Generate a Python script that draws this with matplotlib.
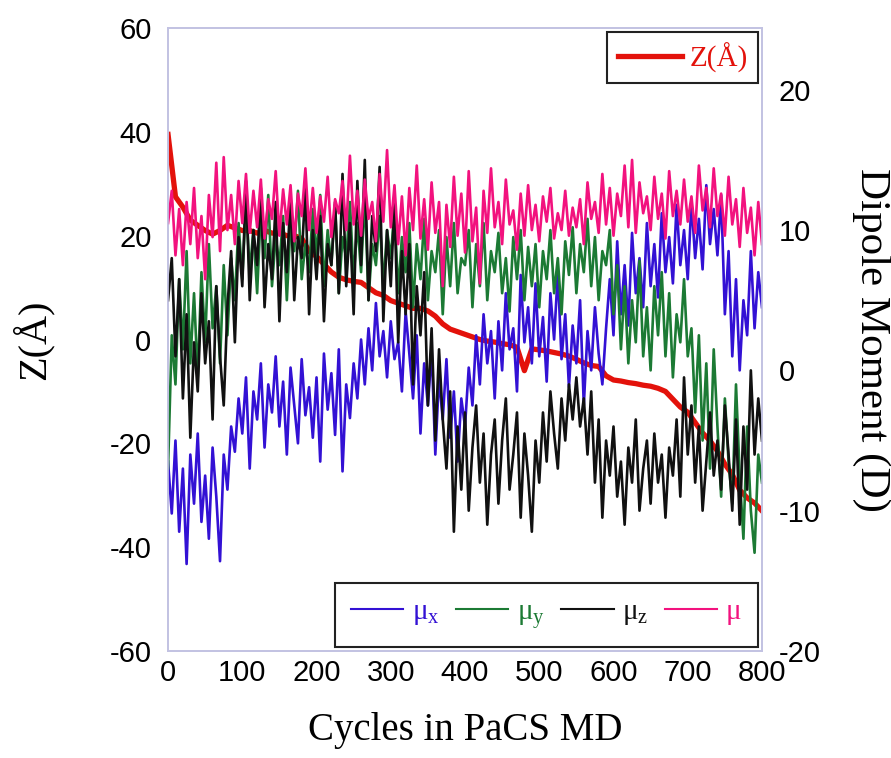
import numpy as np
import matplotlib.pyplot as plt

plt.rcParams['mathtext.fontset'] = 'custom'
plt.rcParams['mathtext.rm'] = 'Liberation Serif'
plt.rcParams['mathtext.it'] = 'Liberation Serif'
plt.rcParams['axes.unicode_minus'] = False

# PaCS MD cycles, sampled every 10 cycles for Z and every 5 for the dipole components
z_cycles = np.arange(0, 801, 10)
mu_cycles = np.arange(0, 801, 5)

# Z coordinate (Angstrom)
z_pos = [
    39.5, 27.5, 25.5, 23.0, 22.0, 21.0, 20.3, 21.0, 22.0, 21.5,
    21.0, 21.0, 20.5, 21.0, 20.5, 20.5, 20.0, 20.0, 19.5, 17.0,
    16.0, 14.5, 13.0, 12.0, 11.5, 11.2, 11.0, 10.0, 9.0, 8.5,
    7.5, 7.0, 6.5, 6.0, 6.0, 5.5, 4.5, 3.0, 2.0, 1.5,
    1.0, 0.5, 0.0, -0.3, -0.5, -0.8, -1.0, -1.5, -6.0, -1.8,
    -2.0, -2.2, -2.5, -2.8, -3.2, -3.8, -4.5, -5.0, -5.2, -7.0,
    -7.8, -8.0, -8.3, -8.5, -8.8, -9.0, -9.4, -10.0, -11.5, -13.0,
    -14.0, -16.0, -18.0, -19.5, -21.5, -24.0, -26.0, -29.0, -30.5, -31.5,
    -33.0,
]

# dipole moment components (Debye)
mu_x = [
    -6.5, -10.2, -5.0, -11.5, -7.0, -13.8, -6.0, -9.5, -4.5, -10.8,
    -7.5, -12.0, -5.5, -9.0, -13.6, -6.0, -8.5, -4.0, -5.8, -2.0,
    -4.5, -0.5, -7.0, -1.5, -3.5, 0.5, -5.5, -1.0, -3.0, 1.0,
    -4.0, -0.8, -6.0, 0.2, -2.5, -5.2, 0.8, -3.2, -1.2, -4.8,
    -0.5, -6.5, 1.2, -2.8, -0.2, -4.6, 1.5, -7.2, -1.0, -3.4,
    0.5, -2.0, 2.2, -1.0, 3.0, 0.0, 4.8, 1.0, 2.8, -0.5,
    3.5, 0.8, 2.0, -1.5, 4.2, 1.2, -2.0, 2.5, -4.5, 0.5,
    -2.5, 1.5, -6.0, -0.5, -3.5, 0.8, -4.8, -1.5, -6.5, -2.0,
    -4.0, 0.2, -2.5, 2.5, -1.0, 4.0, 0.5, 2.8, -2.0, 3.5,
    0.0, 5.5, 1.5, 3.0, -1.5, 6.8, 2.0, 4.5, 0.5, 6.2,
    1.0, 3.8, -0.8, 5.5, 2.2, 7.0, 0.8, 4.0, -1.2, 3.2,
    0.5, 5.0, -2.5, 2.8, 0.0, 4.5, 1.2, -1.0, 3.0, 6.5,
    2.5, 9.2, 4.0, 7.5, 3.2, 9.8, 5.5, 8.0, 4.5, 10.5,
    6.0, 9.0, 5.2, 11.2, 7.0, 9.5, 6.2, 11.8, 7.5, 10.0,
    6.5, 12.0, 8.0, 10.8, 7.2, 13.2, 9.0, 11.5, 8.2, 12.5,
    4.0, 8.5, 1.0, 6.5, 0.0, 5.0, 2.5, 8.5, 3.0, 7.0,
    4.5,
]

mu_y = [
    -7.0, 2.5, -1.0, 6.5, 1.5, 8.5, 0.5, 5.5, -0.5, 7.0,
    2.0, 9.0, 3.0, 6.0, 0.5, 7.5, 2.5, 8.0, 5.0, 10.5,
    6.5, 12.0, 7.0, 10.0, 5.5, 11.5, 8.0, 12.5, 6.0, 9.5,
    7.5, 11.0, 5.0, 10.5, 8.5, 12.8, 6.5, 9.0, 7.0, 11.5,
    8.0, 12.5, 6.0, 10.0, 7.5, 11.8, 5.5, 9.5, 8.0, 12.0,
    6.5, 10.5, 7.0, 12.5, 5.0, 9.0, 7.5, 11.0, 6.0, 10.0,
    8.0, 11.5, 5.5, 9.5, 7.0, 10.5, 4.5, 9.0, 6.5, 10.8,
    5.0, 8.5, 7.0, 10.0, 4.0, 9.5, 6.0, 10.5, 5.5, 8.0,
    7.5, 10.0, 4.5, 9.0, 6.0, 10.5, 5.0, 8.5, 7.0, 9.8,
    5.5, 8.0, 4.2, 9.5, 6.5, 10.0, 5.0, 8.8, 6.0, 9.0,
    4.5, 8.5, 6.5, 10.0, 5.5, 8.0, 4.0, 9.2, 6.8, 10.2,
    5.5, 9.0, 7.0, 10.8, 6.0, 9.5, 5.0, 8.5, 7.5, 10.0,
    4.0, 7.5, 1.5, 6.0, 0.5, 5.0, 2.0, 7.8, 1.0, 4.5,
    0.0, 6.0, 2.5, 7.0, 1.0, 5.5, -0.5, 4.0, 2.0, 6.5,
    1.0, 3.0, -3.0, 2.5, -5.0, 0.5, -7.0, 1.5, -4.0, -9.0,
    -2.0, -6.5, -9.5, -1.0, -7.5, -12.0, -4.0, -10.0, -13.0, -6.0,
    -8.0,
]

mu_z = [
    5.0, 8.0, 1.0, 6.5, -2.0, 4.0, -4.8, 2.0, -1.5, 5.5,
    0.5, 3.5, -3.5, 6.0, 1.0, -2.5, 4.5, 8.5, 2.0, 9.5,
    6.0, 13.5, 5.0, 10.0, 7.5, 13.0, 4.5, 9.0, 6.5, 12.0,
    3.5, 10.5, 7.0, 12.5, 5.0, 9.5, 8.0, 13.0, 4.0, 10.0,
    6.5, 11.0, 3.5, 9.0, 7.5, 12.0, 5.5, 14.0, 6.0, 10.5,
    4.0, 13.5, 7.5, 15.0, 5.0, 11.0, 8.5, 14.5, 3.5, 10.0,
    6.0, 12.0, 2.0, 8.5, 4.0, 9.0, -1.0, 6.0, 2.5, 7.0,
    -2.5, 3.0, -5.0, 1.5, -3.5, -7.0, -1.5, -11.5, -4.0, -8.5,
    -3.0, -10.0, -5.5, -2.5, -8.0, -4.5, -11.0, -6.0, -3.5, -9.5,
    -5.0, -2.0, -8.5, -6.0, -3.0, -10.5, -4.5, -7.5, -11.5, -5.0,
    -8.0, -3.0, -6.5, -1.5, -4.5, -7.0, -2.0, -5.0, -1.0, -3.5,
    -0.5, -4.0, -2.0, -6.0, -1.5, -8.0, -3.5, -10.5, -5.0, -7.5,
    -4.0, -9.0, -6.5, -11.0, -5.5, -8.0, -3.5, -10.0, -7.0, -5.0,
    -9.5, -4.5, -8.0, -6.0, -10.5, -5.5, -7.5, -3.5, -9.0, -0.5,
    -6.0, -2.5, -8.0, -4.0, -10.0, -6.5, -3.0, -7.5, -5.0, -8.5,
    -2.5, -6.0, -10.0, -3.5, -11.0, -4.0, -8.5, 0.0, -6.0, -2.0,
    -5.0,
]

mu_total = [
    10.5, 12.8, 8.2, 11.5, 7.5, 12.0, 9.0, 13.0, 8.0, 11.0,
    6.5, 12.5, 9.5, 14.8, 8.5, 15.2, 10.0, 12.5, 9.0, 13.5,
    10.5, 14.0, 9.8, 12.8, 10.2, 13.6, 9.4, 12.2, 10.8, 14.2,
    9.6, 12.9, 10.4, 13.2, 9.2, 12.6, 11.0, 14.4, 10.0, 13.0,
    9.8, 12.4, 10.6, 13.8, 9.5, 12.2, 11.2, 13.5, 10.0, 15.3,
    10.4, 12.8, 9.6, 13.6, 10.8, 12.0, 9.2, 14.0, 10.6, 15.7,
    10.2, 13.2, 9.0, 12.4, 8.2, 13.0, 10.0, 14.6, 9.4, 12.2,
    8.6, 13.4, 9.8, 12.0, 6.0, 11.8, 8.8, 13.8, 9.6, 12.6,
    8.4, 14.2, 9.2, 11.6, 6.2, 12.8, 9.8, 14.4, 10.2, 12.0,
    9.0, 13.6, 10.4, 11.4, 8.6, 12.6, 9.6, 13.2, 10.0, 11.8,
    9.2, 12.4, 10.6, 13.0, 9.4, 11.2, 10.0, 12.8, 9.6, 11.6,
    10.2, 12.2, 9.0, 13.4, 10.8, 12.0, 9.8, 14.0, 10.4, 13.0,
    9.6, 12.6, 11.0, 14.6, 10.2, 15.0, 9.8, 13.4, 11.2, 12.4,
    10.0, 13.8, 10.8, 12.6, 9.4, 14.2, 11.0, 12.8, 10.4, 13.6,
    10.6, 12.4, 9.8, 14.6, 11.4, 13.0, 10.2, 14.4, 11.0, 12.6,
    9.6, 13.8, 10.4, 12.2, 8.8, 13.0, 9.8, 11.6, 8.2, 12.0,
    9.0,
]

serif = 'Liberation Serif'
frame_color = '#c2c2e2'

fig = plt.figure(figsize=(8.91, 7.58), dpi=100)
ax = fig.add_axes([0.1886, 0.1412, 0.6666, 0.8218])
ax2 = ax.twinx()

z_line, = ax.plot(z_cycles, z_pos, color='#e3120b', lw=3.8, label='Z(Å)')

lw = 1.9
h_x, = ax2.plot(mu_cycles, mu_x, color='#3311d4', lw=lw, label=r'μ$_\mathregular{x}$')
h_y, = ax2.plot(mu_cycles, mu_y, color='#1c7a34', lw=lw, label=r'μ$_\mathregular{y}$')
h_z, = ax2.plot(mu_cycles, mu_z, color='#111111', lw=lw, label=r'μ$_\mathregular{z}$')
h_t, = ax2.plot(mu_cycles, mu_total, color='#f2127e', lw=lw, label='μ')

ax.set_xlim(0, 800)
ax.set_ylim(-60, 60)
ax2.set_ylim(-20, 24.4)
ax.set_xticks(np.arange(0, 801, 100))
ax.set_yticks(np.arange(-60, 61, 20))
ax2.set_yticks(np.arange(-20, 21, 10))

for a in (ax, ax2):
    a.tick_params(length=0, labelsize=21, pad=12)
    for lbl in a.get_xticklabels() + a.get_yticklabels():
        lbl.set_fontfamily('Liberation Sans')
    for sp in a.spines.values():
        sp.set_color(frame_color)
        sp.set_linewidth(1.2)
ax.tick_params(axis='x', pad=6)

ax.set_xlabel('Cycles in PaCS MD', fontsize=28, fontfamily=serif, labelpad=18)
ax.set_ylabel('Z(Å)', fontsize=29, fontfamily=serif, labelpad=40)
ax2.set_ylabel('Dipole Moment (D)', fontsize=31, fontfamily=serif,
               rotation=270, labelpad=50)

leg_z = ax2.legend(handles=[z_line], loc='upper right',
                   prop={'family': serif, 'size': 21}, labelcolor='linecolor',
                   fancybox=False, framealpha=1, edgecolor='#222222',
                   handlelength=2.2, handletextpad=0.25, borderaxespad=0.15,
                   borderpad=0.35)
leg_z.get_frame().set_linewidth(1.5)
ax2.add_artist(leg_z)

leg_mu = ax2.legend(handles=[h_x, h_y, h_z, h_t], loc='lower right', ncol=4,
                    prop={'family': serif, 'size': 21}, labelcolor='linecolor',
                    fancybox=False, framealpha=1, edgecolor='#222222',
                    handlelength=1.8, handletextpad=0.3, columnspacing=0.55,
                    borderaxespad=0.15, borderpad=0.55)
leg_mu.get_frame().set_linewidth(1.5)
for ln in leg_mu.get_lines():
    ln.set_linewidth(1.5)

fig.savefig('out.png', dpi=100)
